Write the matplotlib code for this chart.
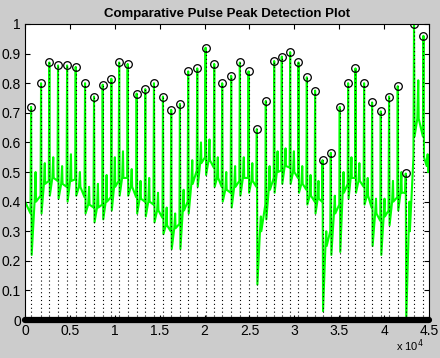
import matplotlib
matplotlib.use("Agg")
from matplotlib import pyplot as plt

# detected peaks (sample index, amplitude)
peak_x = [670, 1780, 2700, 3670, 4680, 5640, 6680, 7680, 8650, 9610,
          10480, 11430, 12430, 13390, 14360, 15360, 16280, 17250, 18170, 19180,
          20110, 21070, 21960, 22960, 23930, 24900, 25820, 26820, 27750, 28600,
          29530, 30460, 31390, 32310, 33140, 34060, 35060, 35990, 36810, 37770,
          38660, 39630, 40550, 41520, 42410, 43330, 44380]
peak_y = [0.72, 0.80, 0.87, 0.86, 0.86, 0.855, 0.80, 0.755, 0.795, 0.815,
          0.87, 0.865, 0.765, 0.78, 0.80, 0.755, 0.71, 0.73, 0.84, 0.85,
          0.92, 0.865, 0.80, 0.825, 0.87, 0.84, 0.645, 0.74, 0.875, 0.89,
          0.905, 0.87, 0.82, 0.775, 0.54, 0.565, 0.72, 0.80, 0.85, 0.80,
          0.735, 0.705, 0.755, 0.79, 0.495, 1.0, 0.96]

# pulse signal levels per beat: before spike, just after spike,
# recovered level and small secondary spike
band = [0.36, 0.42, 0.47, 0.47, 0.45, 0.475, 0.415, 0.38, 0.39, 0.415,
        0.47, 0.48, 0.415, 0.40, 0.39, 0.345, 0.30, 0.325, 0.40, 0.505,
        0.55, 0.515, 0.45, 0.43, 0.47, 0.48, 0.45, 0.39, 0.48, 0.505,
        0.515, 0.48, 0.44, 0.40, 0.40, 0.30, 0.39, 0.46, 0.48, 0.45,
        0.38, 0.335, 0.37, 0.415, 0.43, 0.55, 0.62]
trough = [0.22, 0.36, 0.42, 0.41, 0.40, 0.42, 0.36, 0.33, 0.34, 0.37,
          0.42, 0.42, 0.36, 0.35, 0.33, 0.29, 0.24, 0.24, 0.36, 0.45,
          0.49, 0.45, 0.40, 0.38, 0.42, 0.43, 0.12, 0.34, 0.43, 0.46,
          0.46, 0.43, 0.39, 0.36, 0.03, 0.22, 0.23, 0.41, 0.43, 0.39,
          0.25, 0.22, 0.32, 0.37, 0.0, 0.62, 0.55]
settle = [0.40, 0.46, 0.48, 0.46, 0.47, 0.45, 0.39, 0.38, 0.40, 0.45,
          0.48, 0.45, 0.41, 0.40, 0.37, 0.32, 0.31, 0.37, 0.46, 0.53,
          0.54, 0.48, 0.44, 0.45, 0.48, 0.47, 0.30, 0.44, 0.50, 0.52,
          0.50, 0.46, 0.42, 0.41, 0.25, 0.36, 0.43, 0.48, 0.47, 0.42,
          0.36, 0.35, 0.40, 0.43, 0.30, 0.68, 0.52]
bump = [0.50, 0.53, 0.55, 0.52, 0.56, 0.50, 0.45, 0.46, 0.49, 0.55,
        0.57, 0.51, 0.47, 0.48, 0.43, 0.38, 0.36, 0.44, 0.54, 0.60,
        0.61, 0.55, 0.50, 0.52, 0.55, 0.53, 0.35, 0.52, 0.57, 0.58,
        0.57, 0.52, 0.49, 0.47, 0.30, 0.42, 0.50, 0.55, 0.53, 0.48,
        0.41, 0.41, 0.47, 0.50, 0.40, 0.81, 0.56]
start_y = 0.40
end_x, end_y = 44900, 0.50

x_ticks = [0, 5000, 10000, 15000, 20000, 25000, 30000, 35000, 40000, 45000]
x_labels = ["0", "0.5", "1", "1.5", "2", "2.5", "3", "3.5", "4", "4.5"]
y_ticks = [0, 0.1, 0.2, 0.3, 0.4, 0.5, 0.6, 0.7, 0.8, 0.9, 1]
y_labels = ["0", "0.1", "0.2", "0.3", "0.4", "0.5", "0.6", "0.7", "0.8", "0.9", "1"]


def build_signal():
    sx, sy = [0], [start_y]
    n = len(peak_x)
    for i in range(n):
        x = peak_x[i]
        g = (peak_x[i + 1] - x) if i < n - 1 else (end_x - x) * 2
        sx += [x - 0.06 * g, x, x + 0.06 * g, x + 0.35 * g, x + 0.45 * g, x + 0.5 * g]
        sy += [band[i], peak_y[i], trough[i], settle[i], bump[i], settle[i]]
    sx.append(end_x)
    sy.append(end_y)
    return sx, sy


def main():
    plt.rcParams["font.family"] = ["Liberation Sans", "DejaVu Sans"]
    fig = plt.figure(figsize=(4.4, 3.58), dpi=100, facecolor="#cccccc")
    ax = fig.add_axes([0.057, 0.106, 0.918, 0.827])

    sx, sy = build_signal()
    ax.plot(sx, sy, color="#00ff00", lw=1.5, zorder=2)

    ax.vlines(peak_x, 0, peak_y, colors="black", linestyles=(0, (1, 2.5)),
              lw=0.8, zorder=3)
    ax.plot(peak_x, peak_y, "o", mfc="none", mec="black", ms=5.5, mew=0.9,
            zorder=4)
    ax.plot([0, 45000], [0, 0], color="black", lw=4.5,
            solid_capstyle="round", clip_on=False, zorder=5)

    ax.set_xlim(0, 45000)
    ax.set_ylim(0, 1)
    ax.set_xticks(x_ticks, x_labels)
    ax.set_yticks(y_ticks, y_labels)
    ax.tick_params(direction="in", length=3.5, width=0.8, labelsize=10,
                   top=True, right=True, pad=3)
    for s in ax.spines.values():
        s.set_linewidth(0.8)

    ax.set_title("Comparative Pulse Peak Detection Plot", fontsize=9.5,
                 fontweight="bold", pad=5)
    fig.text(0.963, 0.012, r"x 10$^{4}$", fontsize=8, ha="right", va="bottom")

    fig.savefig("out.png", dpi=100, facecolor=fig.get_facecolor())


if __name__ == "__main__":
    main()
